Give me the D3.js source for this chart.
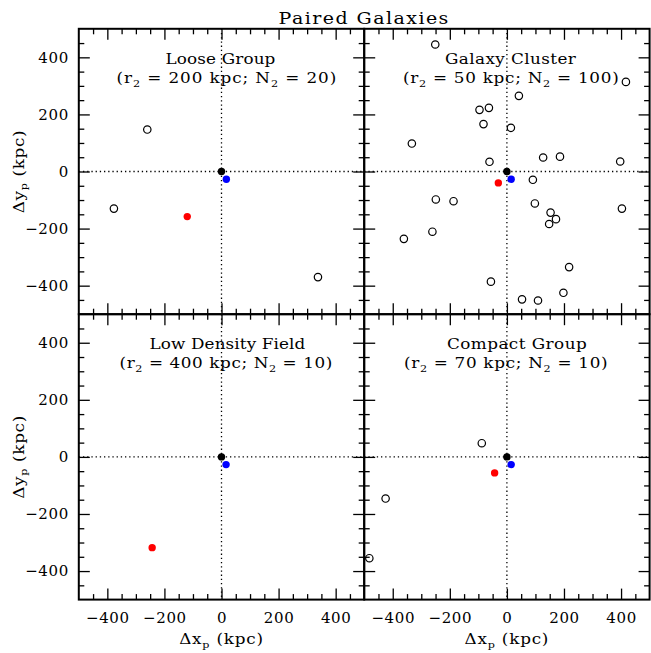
<!DOCTYPE html>
<html>
<head>
<meta charset="utf-8">
<script src="https://cdn.jsdelivr.net/npm/d3@7"></script>
<style>
  body { margin: 0; background: #fff; }
  svg { display: block; }
  text { font-family: "DejaVu Serif", serif; fill: #000; white-space: pre; }
</style>
</head>
<body>
<svg id="chart" width="651" height="653"></svg>
<script>
// ---- data -------------------------------------------------------------
const chartTitle = "Paired Galaxies";
const environments = ["Loose Group", "Galaxy Cluster", "Low Density Field", "Compact Group"];
const r2 = [200, 50, 400, 70];   // kpc
const n2 = [20, 100, 10, 10];

const majorTicks = [-400, -200, 0, 200, 400];
const minorTicks = [-450, -350, -300, -250, -150, -100, -50, 50, 100, 150, 250, 300, 350, 450];

// primary galaxy (black), its partner (blue) and the group centre (red)
const primaryX = [0, 0, 0, 0];
const primaryY = [0, 0, 0, 0];
const partnerX = [17, 15, 16, 15];
const partnerY = [-27, -27, -27, -27];
const centreX = [-120, -30, -243, -43];
const centreY = [-158, -40, -318, -56];

// surrounding group members (open circles)
const memberX = [
  [-260, -377, 338],
  [-251, 417, 42, -96, -63, -82, 14, -333, -61, 127, 186, 397, 91, -249, -187, 98, 153, 172, 148, 403, -261, -361, 218, -56, 198, 53, 109],
  [],
  [-88, -425, -482]
];
const memberY = [
  [147, -130, -370],
  [445, 314, 265, 216, 223, 166, 153, 98, 34, 49, 52, 35, -29, -98, -104, -112, -144, -167, -184, -130, -211, -236, -335, -386, -425, -448, -452],
  [],
  [48, -146, -355]
];

// ---- layout -----------------------------------------------------------
const frameLeft = 78.8, frameTop = 28.8, panelSize = 285.4;
const majorLen = 11, minorLen = 5.5;
// label line offsets (px, from the x = 0 line) and widths for each panel
const labelLayout = [
  { s1: -56, w1: 110, s2: -105, w2: 220 },
  { s1: -62, w1: 131, s2: -104, w2: 216 },
  { s1: -72, w1: 156, s2: -102, w2: 213 },
  { s1: -60, w1: 140, s2: -103, w2: 204 }
];

const svg = d3.select("#chart");

// Widen a text to a given width: mostly by stretching the glyphs, the rest by spacing.
function fitWidth(sel, target, base) {
  const node = sel.node();
  const n = node.getNumberOfChars();
  const w = node.getComputedTextLength();
  const sx = Math.min(target / w, 1.12);
  const ls = (target / sx - w) / Math.max(n - 1, 1);
  sel.attr("letter-spacing", ls.toFixed(2))
     .attr("transform", `${base} scale(${sx.toFixed(3)},1)`);
}

const x = d3.scaleLinear().domain([-500, 500]).range([0, panelSize]);
const y = d3.scaleLinear().domain([-500, 500]).range([panelSize, 0]);
const fmt = d3.format("d");

function styleAxis(g) {
  g.select(".domain").remove();
  g.attr("font-family", null).attr("font-size", null);
  g.selectAll("line").attr("stroke", "#000").attr("stroke-width", 1.3);
  g.selectAll("text").attr("font-size", 15).attr("letter-spacing", 0.6);
}

environments.forEach((name, i) => {
  const col = i % 2, row = Math.floor(i / 2);
  const g = svg.append("g")
    .attr("transform", `translate(${frameLeft + col * panelSize},${frameTop + row * panelSize})`);

  // ticks on all four sides, pointing inwards
  const sides = [
    { gen: d3.axisBottom(x), t: `translate(0,${panelSize})`, label: row === 1, pad: 13 },
    { gen: d3.axisTop(x), t: null, label: false, pad: 3 },
    { gen: d3.axisLeft(y), t: null, label: col === 0, pad: 10 },
    { gen: d3.axisRight(y), t: `translate(${panelSize},0)`, label: false, pad: 3 }
  ];
  sides.forEach(s => {
    g.append("g").attr("transform", s.t)
      .call(s.gen.tickValues(minorTicks).tickSizeInner(-minorLen).tickSizeOuter(0).tickFormat(""))
      .call(styleAxis);
    g.append("g").attr("transform", s.t)
      .call(s.gen.tickValues(majorTicks).tickSizeInner(-majorLen).tickSizeOuter(0)
        .tickPadding(s.pad).tickFormat(s.label ? fmt : ""))
      .call(styleAxis);
  });

  // dotted reference lines through the origin
  g.append("line")
    .attr("x1", x(0)).attr("x2", x(0)).attr("y1", 0).attr("y2", panelSize)
    .attr("stroke", "#000").attr("stroke-width", 1.3).attr("stroke-dasharray", "1.3,2.9");
  g.append("line")
    .attr("x1", 0).attr("x2", panelSize).attr("y1", y(0)).attr("y2", y(0))
    .attr("stroke", "#000").attr("stroke-width", 1.3).attr("stroke-dasharray", "1.3,2.9");

  // panel frame
  g.append("rect")
    .attr("x", 0).attr("y", 0).attr("width", panelSize).attr("height", panelSize)
    .attr("fill", "none").attr("stroke", "#000").attr("stroke-width", 2);

  // group members
  g.selectAll("circle.member")
    .data(memberX[i].map((v, k) => [v, memberY[i][k]]))
    .join("circle").attr("class", "member")
    .attr("cx", d => x(d[0])).attr("cy", d => y(d[1])).attr("r", 3.7)
    .attr("fill", "none").attr("stroke", "#000").attr("stroke-width", 1.2);

  // centre, primary and partner
  const filled = [
    [centreX[i], centreY[i], "#ff0000"],
    [primaryX[i], primaryY[i], "#000000"],
    [partnerX[i], partnerY[i], "#0000ff"]
  ];
  g.selectAll("circle.key")
    .data(filled)
    .join("circle").attr("class", "key")
    .attr("cx", d => x(d[0])).attr("cy", d => y(d[1])).attr("r", 3.7)
    .attr("fill", d => d[2]);

  // environment label
  const L = labelLayout[i];
  const b1 = `translate(${x(0) + L.s1},35.2)`;
  const t1 = g.append("text").attr("transform", b1)
    .attr("font-size", 15).text(name);
  fitWidth(t1, L.w1, b1);

  const b2 = `translate(${x(0) + L.s2},54.2)`;
  const t2 = g.append("text").attr("transform", b2).attr("font-size", 15);
  t2.append("tspan").text("(r");
  t2.append("tspan").attr("font-size", 10).attr("dy", 3.5).text("2");
  t2.append("tspan").attr("dy", -3.5).text(` = ${r2[i]} kpc; N`);
  t2.append("tspan").attr("font-size", 10).attr("dy", 3.5).text("2");
  t2.append("tspan").attr("dy", -3.5).text(` = ${n2[i]})`);
  fitWidth(t2, L.w2, b2);

  // axis titles
  if (row === 1) {
    const bx = `translate(${x(0)},${panelSize + 44.5})`;
    const xt = g.append("text").attr("transform", bx)
      .attr("text-anchor", "middle").attr("font-size", 15);
    xt.append("tspan").text("Δx");
    xt.append("tspan").attr("font-size", 10).attr("dy", 3.5).text("p");
    xt.append("tspan").attr("dy", -3.5).text(" (kpc)");
    fitWidth(xt, 84, bx);
  }
  if (col === 0) {
    const by = `translate(${-55},${y(0)}) rotate(-90)`;
    const yt = g.append("text").attr("transform", by)
      .attr("text-anchor", "middle").attr("font-size", 15);
    yt.append("tspan").text("Δy");
    yt.append("tspan").attr("font-size", 10).attr("dy", 3.5).text("p");
    yt.append("tspan").attr("dy", -3.5).text(" (kpc)");
    fitWidth(yt, 83, by);
  }
});

// overall title
const bt = `translate(${frameLeft + panelSize},24)`;
const title = svg.append("text").attr("transform", bt)
  .attr("text-anchor", "middle").attr("font-size", 17)
  .text(chartTitle);
fitWidth(title, 170, bt);
</script>
</body>
</html>
